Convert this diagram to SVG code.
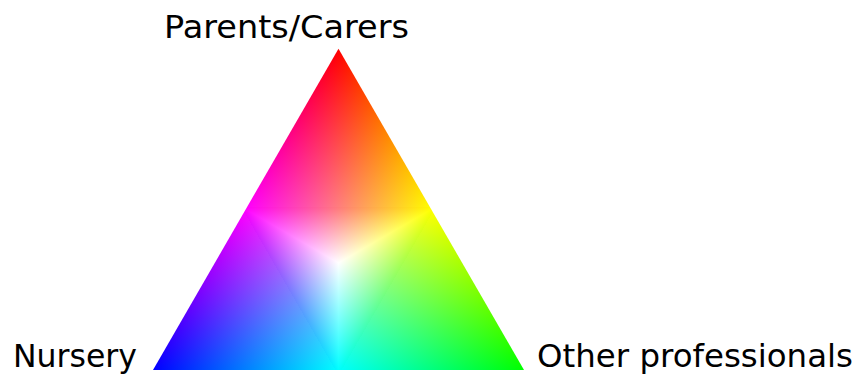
<svg xmlns="http://www.w3.org/2000/svg" width="861" height="376" viewBox="0 0 861 376">
  <style>
    .lbl { font-family: "Comic Sans MS", "DejaVu Sans", "Noto Sans", sans-serif; font-size: 32px; fill: #000; }
    .cr { shape-rendering: crispEdges; stroke: none; }
    .ov { mix-blend-mode: screen; }
  </style>
  <defs>
    <clipPath id="tri-clip">
      <polygon points="338.5,48.7 524,370 153,370"/>
    </clipPath>
    <!-- Quad at red vertex (A) -->
    <linearGradient id="aTa" gradientUnits="userSpaceOnUse" x1="292.125" y1="129.02" x2="431.25" y2="209.35">
      <stop offset="0" stop-color="#ff0000"/><stop offset="1" stop-color="#ffff00"/>
    </linearGradient>
    <linearGradient id="aOa" gradientUnits="userSpaceOnUse" x1="384.875" y1="129.02" x2="245.75" y2="209.35">
      <stop offset="0" stop-color="#000000"/><stop offset="1" stop-color="#0000ff"/>
    </linearGradient>
    <linearGradient id="aTb" gradientUnits="userSpaceOnUse" x1="245.75" y1="209.35" x2="292.125" y2="289.675">
      <stop offset="0" stop-color="#ff0000"/><stop offset="1" stop-color="#ffff00"/>
    </linearGradient>
    <linearGradient id="aOb" gradientUnits="userSpaceOnUse" x1="431.25" y1="209.35" x2="384.875" y2="289.675">
      <stop offset="0" stop-color="#000000"/><stop offset="1" stop-color="#0000ff"/>
    </linearGradient>
    <!-- Quad at green vertex (C): rotate 120 -->
    <linearGradient id="cTa" gradientUnits="userSpaceOnUse" gradientTransform="rotate(120 338.5 262.9)" x1="292.125" y1="129.02" x2="431.25" y2="209.35">
      <stop offset="0" stop-color="#00ff00"/><stop offset="1" stop-color="#00ffff"/>
    </linearGradient>
    <linearGradient id="cOa" gradientUnits="userSpaceOnUse" gradientTransform="rotate(120 338.5 262.9)" x1="384.875" y1="129.02" x2="245.75" y2="209.35">
      <stop offset="0" stop-color="#000000"/><stop offset="1" stop-color="#ff0000"/>
    </linearGradient>
    <linearGradient id="cTb" gradientUnits="userSpaceOnUse" gradientTransform="rotate(120 338.5 262.9)" x1="245.75" y1="209.35" x2="292.125" y2="289.675">
      <stop offset="0" stop-color="#00ff00"/><stop offset="1" stop-color="#00ffff"/>
    </linearGradient>
    <linearGradient id="cOb" gradientUnits="userSpaceOnUse" gradientTransform="rotate(120 338.5 262.9)" x1="431.25" y1="209.35" x2="384.875" y2="289.675">
      <stop offset="0" stop-color="#000000"/><stop offset="1" stop-color="#ff0000"/>
    </linearGradient>
    <!-- Quad at blue vertex (B): rotate 240 -->
    <linearGradient id="bTa" gradientUnits="userSpaceOnUse" gradientTransform="rotate(240 338.5 262.9)" x1="292.125" y1="129.02" x2="431.25" y2="209.35">
      <stop offset="0" stop-color="#0000ff"/><stop offset="1" stop-color="#ff00ff"/>
    </linearGradient>
    <linearGradient id="bOa" gradientUnits="userSpaceOnUse" gradientTransform="rotate(240 338.5 262.9)" x1="384.875" y1="129.02" x2="245.75" y2="209.35">
      <stop offset="0" stop-color="#000000"/><stop offset="1" stop-color="#00ff00"/>
    </linearGradient>
    <linearGradient id="bTb" gradientUnits="userSpaceOnUse" gradientTransform="rotate(240 338.5 262.9)" x1="245.75" y1="209.35" x2="292.125" y2="289.675">
      <stop offset="0" stop-color="#0000ff"/><stop offset="1" stop-color="#ff00ff"/>
    </linearGradient>
    <linearGradient id="bOb" gradientUnits="userSpaceOnUse" gradientTransform="rotate(240 338.5 262.9)" x1="431.25" y1="209.35" x2="384.875" y2="289.675">
      <stop offset="0" stop-color="#000000"/><stop offset="1" stop-color="#00ff00"/>
    </linearGradient>
  </defs>

  <g id="triangle" clip-path="url(#tri-clip)" style="isolation:isolate">
    <!-- base layer -->
    <polygon class="cr" fill="url(#aTa)" points="338.5,37.99 241.11,206.67 435.89,206.67"/>
    <polygon class="cr" fill="url(#aTb)" points="241.11,206.67 338.5,262.9 435.89,206.67"/>
    <polygon class="cr" fill="url(#cTa)" points="533.28,375.36 435.89,206.67 338.5,375.36"/>
    <polygon class="cr" fill="url(#cTb)" points="435.89,206.67 338.5,262.9 338.5,375.36"/>
    <polygon class="cr" fill="url(#bTa)" points="143.73,375.36 338.5,375.36 241.11,206.67"/>
    <polygon class="cr" fill="url(#bTb)" points="338.5,375.36 338.5,262.9 241.11,206.67"/>
    <!-- overlay layer (screen adds the third channel) -->
    <polygon class="cr ov" fill="url(#aOa)" points="338.5,37.99 241.11,206.67 435.89,206.67"/>
    <polygon class="cr ov" fill="url(#aOb)" points="241.11,206.67 338.5,262.9 435.89,206.67"/>
    <polygon class="cr ov" fill="url(#cOa)" points="533.28,375.36 435.89,206.67 338.5,375.36"/>
    <polygon class="cr ov" fill="url(#cOb)" points="435.89,206.67 338.5,262.9 338.5,375.36"/>
    <polygon class="cr ov" fill="url(#bOa)" points="143.73,375.36 338.5,375.36 241.11,206.67"/>
    <polygon class="cr ov" fill="url(#bOb)" points="338.5,375.36 338.5,262.9 241.11,206.67"/>
  </g>

  <g id="node-parents">
    <text class="lbl" x="164" y="38" textLength="245" lengthAdjust="spacingAndGlyphs">Parents/Carers</text>
  </g>
  <g id="node-nursery">
    <text class="lbl" x="13" y="367" textLength="124" lengthAdjust="spacingAndGlyphs">Nursery</text>
  </g>
  <g id="node-other">
    <text class="lbl" x="537" y="367" textLength="316" lengthAdjust="spacingAndGlyphs">Other professionals</text>
  </g>
</svg>
